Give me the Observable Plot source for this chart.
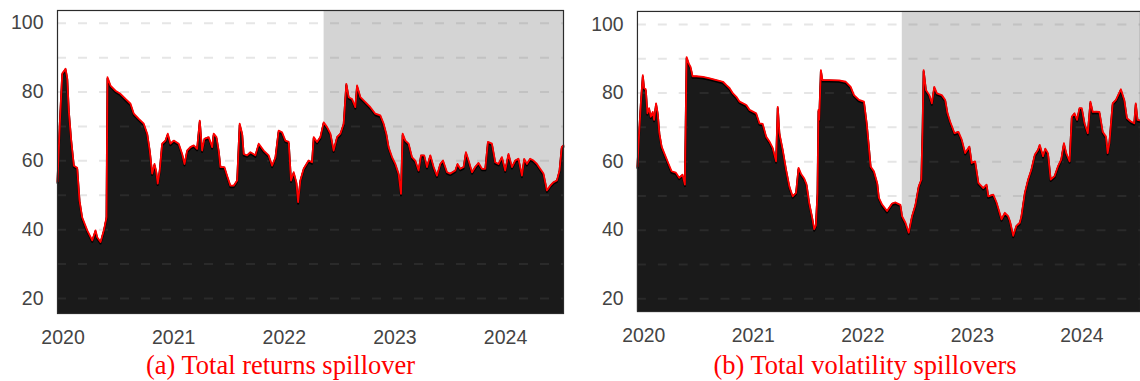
<!DOCTYPE html>
<html><head><meta charset="utf-8">
<script src="https://cdn.jsdelivr.net/npm/d3@7"></script>
<script src="https://cdn.jsdelivr.net/npm/@observablehq/plot@0.6"></script>
<style>
body{margin:0;background:#fff;}
#wrap{position:relative;width:1140px;height:381px;overflow:hidden;background:#fff;}
.panel{position:absolute;top:0;}
.cap{position:absolute;top:351.8px;font-family:"Liberation Serif","Times New Roman",serif;font-size:26.5px;line-height:26.5px;color:#ff0000;white-space:nowrap;transform:translateX(-50%);}
</style></head><body>
<div id="wrap">
  <div id="pa" class="panel" style="left:0"></div>
  <div id="pb" class="panel" style="left:570px"></div>
  <div id="ca" class="cap" style="left:280.5px"></div>
  <div id="cb" class="cap" style="left:865px"></div>
</div>
<script>
const yearTicks = [2020, 2021, 2022, 2023, 2024];
const valueTicks = [20, 40, 60, 80, 100];
const gridValues = [20, 30, 40, 50, 60, 70, 80, 90, 100];
const shadeStart = 2022.36;
const captions = ["(a) Total returns spillover", "(b) Total volatility spillovers"];

const returnsYears = [2019.950, 2019.971, 2019.993, 2020.007, 2020.023, 2020.038, 2020.052, 2020.074, 2020.098, 2020.128,
 2020.149, 2020.173, 2020.219, 2020.264, 2020.294, 2020.309, 2020.339, 2020.369, 2020.393, 2020.402,
 2020.429, 2020.474, 2020.519, 2020.565, 2020.610, 2020.640, 2020.685, 2020.730, 2020.761, 2020.784,
 2020.806, 2020.827, 2020.842, 2020.856, 2020.874, 2020.896, 2020.926, 2020.947, 2020.971, 2021.001,
 2021.046, 2021.077, 2021.098, 2021.122, 2021.152, 2021.182, 2021.212, 2021.236, 2021.257, 2021.278,
 2021.317, 2021.348, 2021.362, 2021.387, 2021.407, 2021.423, 2021.459, 2021.483, 2021.513, 2021.543,
 2021.574, 2021.597, 2021.619, 2021.633, 2021.664, 2021.694, 2021.739, 2021.769, 2021.814, 2021.859,
 2021.890, 2021.920, 2021.949, 2021.980, 2022.010, 2022.040, 2022.061, 2022.085, 2022.109, 2022.125,
 2022.145, 2022.175, 2022.220, 2022.251, 2022.266, 2022.296, 2022.326, 2022.356, 2022.387, 2022.417,
 2022.446, 2022.477, 2022.507, 2022.537, 2022.561, 2022.582, 2022.612, 2022.642, 2022.658, 2022.688,
 2022.733, 2022.778, 2022.823, 2022.868, 2022.898, 2022.922, 2022.943, 2022.974, 2023.004, 2023.033,
 2023.055, 2023.070, 2023.094, 2023.124, 2023.154, 2023.184, 2023.214, 2023.236, 2023.265, 2023.290,
 2023.320, 2023.350, 2023.380, 2023.410, 2023.435, 2023.471, 2023.501, 2023.546, 2023.566, 2023.591,
 2023.621, 2023.642, 2023.666, 2023.697, 2023.726, 2023.756, 2023.787, 2023.817, 2023.841, 2023.877,
 2023.907, 2023.937, 2023.967, 2023.997, 2024.027, 2024.058, 2024.088, 2024.117, 2024.148, 2024.169,
 2024.193, 2024.223, 2024.253, 2024.284, 2024.313, 2024.343, 2024.374, 2024.404, 2024.434, 2024.464,
 2024.488, 2024.508, 2024.524];
const returnsValues = [54, 71, 85.4, 86, 86.8, 84, 74.6, 66, 58.6, 58,
 48.5, 43.6, 39.8, 36.9, 39.8, 37.8, 36.4, 39.8, 43.6, 84.3,
 81.9, 80.4, 79.5, 78, 76.6, 73.7, 72.2, 70.8, 67.9, 63,
 56.3, 59.1, 57, 53.4, 57.2, 65, 65.9, 67.9, 65, 65.9,
 65, 62, 59.1, 63, 64, 64.5, 63.5, 71.7, 63, 66.4,
 66.9, 64, 67.9, 66.9, 63, 58.2, 58.2, 55.7, 52.8, 52.8,
 54.3, 70.8, 67.9, 62, 61.6, 62.5, 61.6, 65, 63, 61.6,
 58.6, 61, 68.8, 68.3, 65.9, 65.5, 54.3, 56.7, 53.8, 48,
 54.3, 57.7, 60.1, 59.6, 66.9, 65.5, 66.9, 71.2, 69.8, 67.9,
 63, 66.9, 67.9, 70.8, 82.4, 78.5, 78, 75.6, 81.9, 78.5,
 77.1, 75.6, 73.7, 73.2, 70.8, 67.9, 64, 61.1, 59.1, 56.3,
 50.4, 67.9, 65.9, 65, 61.1, 60.1, 57.2, 61.6, 61.6, 58.2,
 61.6, 58.2, 55.7, 59.1, 60.1, 56.7, 56.3, 57.2, 59.1, 57.7,
 58.2, 62.5, 60.1, 56.7, 58.2, 59.4, 57.7, 57.7, 65.5, 65,
 59.6, 59.1, 61.1, 57.2, 62, 58.2, 60.1, 60.6, 55.7, 60.6,
 59.1, 60.6, 60.1, 59.1, 57.7, 56.3, 51.4, 52.8, 53.8, 54.3,
 57.2, 64, 64.5];

const volYears = [2019.942, 2019.957, 2019.973, 2019.991, 2020.003, 2020.018, 2020.033, 2020.048, 2020.064, 2020.082,
 2020.094, 2020.112, 2020.127, 2020.142, 2020.163, 2020.193, 2020.223, 2020.254, 2020.293, 2020.323,
 2020.354, 2020.375, 2020.391, 2020.411, 2020.427, 2020.445, 2020.481, 2020.541, 2020.602, 2020.663,
 2020.723, 2020.754, 2020.784, 2020.814, 2020.845, 2020.875, 2020.936, 2020.966, 2021.026, 2021.056,
 2021.086, 2021.117, 2021.147, 2021.177, 2021.208, 2021.223, 2021.238, 2021.268, 2021.299, 2021.329,
 2021.359, 2021.390, 2021.413, 2021.435, 2021.465, 2021.486, 2021.510, 2021.535, 2021.556, 2021.571,
 2021.586, 2021.595, 2021.601, 2021.617, 2021.631, 2021.692, 2021.783, 2021.844, 2021.889, 2021.919,
 2021.965, 2022.010, 2022.035, 2022.055, 2022.071, 2022.101, 2022.131, 2022.146, 2022.176, 2022.221,
 2022.267, 2022.298, 2022.343, 2022.358, 2022.389, 2022.419, 2022.449, 2022.480, 2022.510, 2022.534,
 2022.546, 2022.555, 2022.576, 2022.607, 2022.630, 2022.652, 2022.676, 2022.721, 2022.752, 2022.773,
 2022.797, 2022.837, 2022.873, 2022.903, 2022.934, 2022.973, 2022.994, 2023.025, 2023.055, 2023.100,
 2023.130, 2023.145, 2023.191, 2023.221, 2023.266, 2023.297, 2023.327, 2023.343, 2023.373, 2023.402,
 2023.433, 2023.448, 2023.479, 2023.509, 2023.539, 2023.570, 2023.600, 2023.615, 2023.645, 2023.666,
 2023.690, 2023.715, 2023.751, 2023.781, 2023.811, 2023.836, 2023.857, 2023.888, 2023.908, 2023.933,
 2023.956, 2023.978, 2023.999, 2024.024, 2024.054, 2024.078, 2024.099, 2024.129, 2024.160, 2024.190,
 2024.220, 2024.235, 2024.251, 2024.281, 2024.311, 2024.356, 2024.387, 2024.411, 2024.447, 2024.478,
 2024.492, 2024.508, 2024.535];
const volValues = [58.6, 68.3, 77, 85.2, 81.4, 81.1, 74.1, 75.6, 73.1, 74.5,
 72.2, 77, 74.1, 68.3, 64.4, 62, 59.6, 57.2, 56.8, 55.3,
 56.2, 53.3, 90.5, 88.6, 87.6, 84.9, 84.9, 84.7, 84.3, 83.8,
 83.3, 82.3, 81.4, 79.9, 78.9, 77.5, 76.5, 75.1, 74.1, 71.2,
 71, 67.3, 65.9, 64, 60.1, 76, 68.3, 63.5, 57.7, 52.8,
 49.9, 50.9, 58.2, 56.5, 55.1, 53.4, 48, 44.1, 40.3, 41.4,
 50.9, 75.1, 72.2, 86.7, 83.8, 83.8, 83.7, 83.3, 81.8, 79.4,
 78, 77.5, 71.2, 64.4, 58.6, 57.2, 53.8, 49.5, 47.5, 45.6,
 47.8, 48.1, 47.4, 44.1, 42.2, 39.3, 44.1, 47.4, 52.8, 54.8,
 70.2, 86.7, 80.9, 79.4, 77, 81.8, 79.9, 79.4, 78, 74.1,
 71.7, 68.3, 68.7, 66.4, 62.5, 64.4, 59.6, 60.1, 53.8, 52.3,
 53.3, 49.9, 50.4, 48.1, 43.2, 45.1, 44.1, 42.7, 38.4, 41.3,
 42.2, 44.1, 50.9, 54.8, 57.7, 62, 63.5, 64.9, 61.6, 63.8,
 62.5, 54.8, 55.8, 58.6, 60.6, 65.4, 62.5, 60.1, 73.1, 74.1,
 72.2, 75.6, 75.6, 71.2, 68.3, 77.5, 74.5, 74.6, 74.5, 68.7,
 67.3, 62.5, 65.4, 77, 78, 81.1, 78, 72.7, 71.7, 71.2,
 77, 72.2, 72];

function makePanel(years, values, o) {
  const n = Math.min(years.length, values.length);
  const data = d3.range(n).map(i => ({t: years[i], v: values[i]}));
  return Plot.plot({
    width: o.width, height: 350,
    marginLeft: o.marginLeft, marginRight: o.marginRight,
    marginTop: o.marginTop, marginBottom: o.marginBottom,
    x: {domain: o.xDomain},
    y: {domain: o.yDomain},
    style: {fontFamily: '"Liberation Sans", Arial, sans-serif', fontSize: "19.5px", color: "#444", background: "transparent", overflow: "visible"},
    marks: [
      Plot.rect([{x1: shadeStart, x2: o.xDomain[1]}], {x1: "x1", x2: "x2", y1: o.yDomain[0], y2: o.yDomain[1], fill: "#d4d4d4"}),
      Plot.areaY(data, {x: "t", y1: o.yDomain[0], y2: "v", fill: "#1a1a1a"}),
      Plot.ruleY(gridValues, {stroke: "#757575", strokeOpacity: 0.18, strokeWidth: 2, strokeDasharray: "9,12"}),
      Plot.line(data, {x: "t", y: "v", stroke: "#000", strokeWidth: 2, dy: 1.5}),
      Plot.line(data, {x: "t", y: "v", stroke: "#ff0000", strokeWidth: 1.8}),
      Plot.frame({stroke: "#2b2b2b", strokeWidth: 1.2}),
      Plot.axisX(yearTicks, {tickSize: 0, tickPadding: 17, tickFormat: d => String(d), label: null}),
      Plot.axisY(valueTicks, {tickSize: 0, tickPadding: 14, label: null})
    ]
  });
}

document.getElementById("pa").appendChild(makePanel(returnsYears, returnsValues, {
  width: 570, marginLeft: 57, marginRight: 7, marginTop: 10, marginBottom: 37,
  xDomain: [2019.950, 2024.524], yDomain: [15.64, 103.7]
}));
document.getElementById("pb").appendChild(makePanel(volYears, volValues, {
  width: 573, marginLeft: 67.3, marginRight: 0, marginTop: 11, marginBottom: 37.3,
  xDomain: [2019.942, 2024.535], yDomain: [16.3, 103.8]
}));
document.getElementById("ca").textContent = captions[0];
document.getElementById("cb").textContent = captions[1];
</script>
</body></html>
